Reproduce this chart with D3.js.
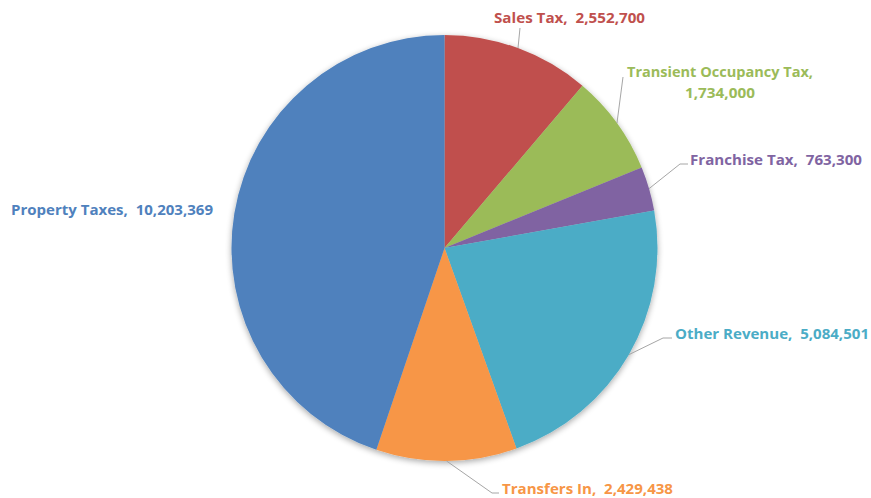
<!DOCTYPE html>
<html>
<head>
<meta charset="utf-8">
<script src="https://cdn.jsdelivr.net/npm/d3@7/dist/d3.min.js"></script>
<style>
  html, body { margin: 0; padding: 0; background: #ffffff; }
  svg { display: block; }
  .lbl { font-family: "Open Sans", Lato, sans-serif; font-weight: 700; font-size: 14px; white-space: pre; }
</style>
</head>
<body>
<svg id="chart" width="871" height="498"></svg>
<script>
// Revenue sources, in clockwise order from 12 o'clock
const categories = ["Sales Tax", "Transient Occupancy Tax", "Franchise Tax", "Other Revenue", "Transfers In", "Property Taxes"];
const values = [2552700, 1734000, 763300, 5084501, 2429438, 10203369];
const colors = ["#C0504D", "#9BBB59", "#8064A2", "#4BACC6", "#F79646", "#4F81BD"];

// Label placement: text anchor point, fitted widths, and leader-line elbow (if any)
const labelLayout = [
  { x: 494, y: 23, anchor: "start", widths: [151], leader: [[520, 28]] },
  { x: 720, y: 77, anchor: "middle", widths: [186, 70], leader: [[623, 77]] },
  { x: 690, y: 165, anchor: "start", widths: [172], leader: [[680, 164], [688, 164]] },
  { x: 675, y: 339, anchor: "start", widths: [194], leader: [[663, 338], [672, 338]] },
  { x: 502, y: 494, anchor: "start", widths: [171], leader: [[492, 493], [499, 493]] },
  { x: 11, y: 215, anchor: "start", widths: [202], leader: null }
];

const cx = 444.5, cy = 248, r = 213;
const fmt = d3.format(",");

const svg = d3.select("#chart");
const defs = svg.append("defs");
const shadow = defs.append("filter").attr("id", "pieShadow")
  .attr("x", "-10%").attr("y", "-10%").attr("width", "120%").attr("height", "120%");
shadow.append("feGaussianBlur").attr("in", "SourceAlpha").attr("stdDeviation", 3).attr("result", "b");
shadow.append("feOffset").attr("in", "b").attr("dx", 0).attr("dy", 2).attr("result", "o");
shadow.append("feComponentTransfer").attr("in", "o").attr("result", "s")
  .append("feFuncA").attr("type", "linear").attr("slope", 0.35);
const merge = shadow.append("feMerge");
merge.append("feMergeNode").attr("in", "s");
merge.append("feMergeNode").attr("in", "SourceGraphic");

const data = categories.map((c, i) => ({ name: c, value: values[i], color: colors[i], layout: labelLayout[i] }));

const pie = d3.pie().sort(null).value(d => d.value);
const arcs = pie(data);
const arc = d3.arc().innerRadius(0).outerRadius(r);

const g = svg.append("g").attr("transform", `translate(${cx},${cy})`);
g.append("g").attr("filter", "url(#pieShadow)")
  .selectAll("path").data(arcs).join("path")
  .attr("d", arc)
  .attr("fill", d => d.data.color);

// Leader lines from the slice edge at its mid-angle to the label
const lines = svg.append("g");
arcs.forEach(a => {
  const L = a.data.layout;
  if (!L.leader) return;
  const mid = (a.startAngle + a.endAngle) / 2;
  const start = [cx + r * Math.sin(mid), cy - r * Math.cos(mid)];
  const pts = [start, ...L.leader];
  lines.append("path")
    .attr("d", d3.line()(pts))
    .attr("fill", "none")
    .attr("stroke", "#a6a6a6")
    .attr("stroke-width", 1);
});

// Labels: "Name,  value"
const labels = svg.append("g");
arcs.forEach(a => {
  const L = a.data.layout;
  const t = labels.append("text")
    .attr("class", "lbl")
    .attr("fill", a.data.color)
    .attr("text-anchor", L.anchor)
    .attr("x", L.x).attr("y", L.y);
  if (L.widths.length === 2) {
    t.append("tspan").attr("x", L.x).attr("dy", 0)
      .attr("textLength", L.widths[0]).attr("lengthAdjust", "spacingAndGlyphs")
      .text(a.data.name + ",");
    t.append("tspan").attr("x", L.x).attr("dy", 21)
      .attr("textLength", L.widths[1]).attr("lengthAdjust", "spacingAndGlyphs")
      .text(fmt(a.data.value));
  } else {
    t.attr("textLength", L.widths[0]).attr("lengthAdjust", "spacingAndGlyphs")
      .text(a.data.name + ",  " + fmt(a.data.value));
  }
});
</script>
</body>
</html>
